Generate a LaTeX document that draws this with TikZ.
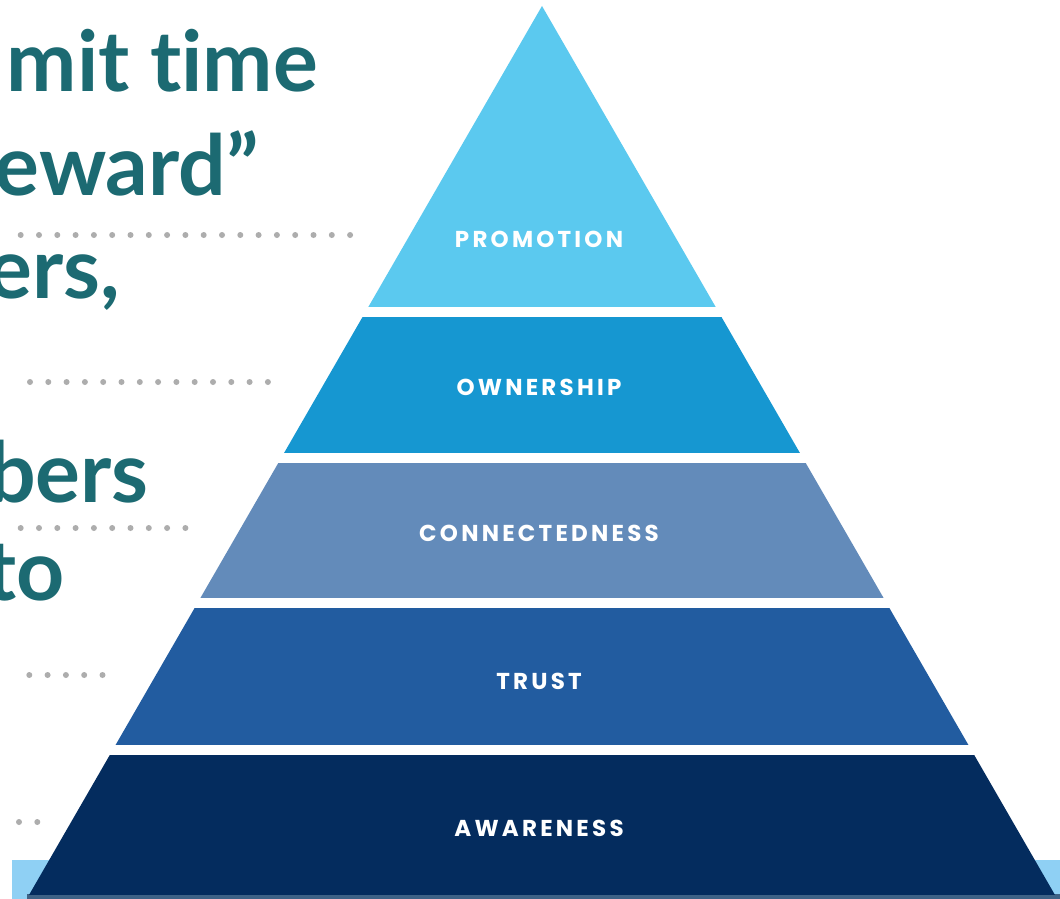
\documentclass[tikz,border=0pt]{standalone}
\usepackage{fontspec}
\setmainfont{Lato}[Ligatures=NoCommon]
\newfontfamily\tierfont{Poppins}[LetterSpace=14]
\usepackage{tikz}
\definecolor{tealtext}{HTML}{1C6A72}
\definecolor{dotgray}{HTML}{ADADAD}
\definecolor{strip}{HTML}{8FD0F4}
\definecolor{shadow}{HTML}{3E6286}
\definecolor{promotion}{HTML}{5BC9EF}
\definecolor{ownership}{HTML}{1697D1}
\definecolor{connected}{HTML}{638BBA}
\definecolor{trust}{HTML}{225CA0}
\definecolor{awareness}{HTML}{042C5E}

\tikzset{
  tier/.style={text=white,inner sep=0pt,font=\tierfont\bfseries\fontsize{23}{23}\selectfont},
  headline/.style={text=tealtext,inner sep=0pt,anchor=base east,font=\bfseries\fontsize{84}{84}\selectfont},
  dotrow/.style={dotgray,line width=6pt,line cap=round,dash pattern=on 0pt off 18.3pt}
}

\begin{document}
\begin{tikzpicture}[x=1pt,y=-1pt]
  \useasboundingbox (0,0) rectangle (1060,899);
  \clip (0,0) rectangle (1060,899);
  \fill[white] (0,0) rectangle (1060,899);

  % cut-off slide text on the left
  \node[headline] (commit) at (318,92) {mit time};
  \node[headline] (reward) at (259,195) {eward”};
  \node[headline] (peers)  at (120,298) {ers,};
  \node[headline] (members) at (149,502) {bers};
  \node[headline] (into)   at (65,600) {to};
  \draw[dotrow] (20.7,235) -- (350.2,235);
  \draw[dotrow] (30,382) -- (268,382);
  \draw[dotrow] (20.7,528) -- (185.5,528);
  \draw[dotrow] (29.3,675) -- (102.6,675);
  \draw[dotrow] (19,822) -- (37.4,822);

  % floor strip and shadow
  \fill[strip] (12,860) rectangle (1060,899);
  \fill[shadow] (27,894) rectangle (1060,899);

  % pyramid, one band per level
  \begin{scope}
    \clip (542,6) -- (29,895) -- (1055,895) -- cycle;
    \fill[promotion] (0,0) rectangle (1060,307);
    \fill[ownership] (0,317) rectangle (1060,453);
    \fill[connected] (0,463) rectangle (1060,598);
    \fill[trust] (0,608) rectangle (1060,745);
    \fill[awareness] (0,755) rectangle (1060,895);
  \end{scope}

  \node[tier] (promo) at (539,239) {PROMOTION};
  \node[tier] (owner) at (539,387) {OWNERSHIP};
  \node[tier] (connect) at (539,533) {CONNECTEDNESS};
  \node[tier] (trustlbl) at (539,681) {TRUST};
  \node[tier] (aware) at (539,828) {AWARENESS};
\end{tikzpicture}
\end{document}
